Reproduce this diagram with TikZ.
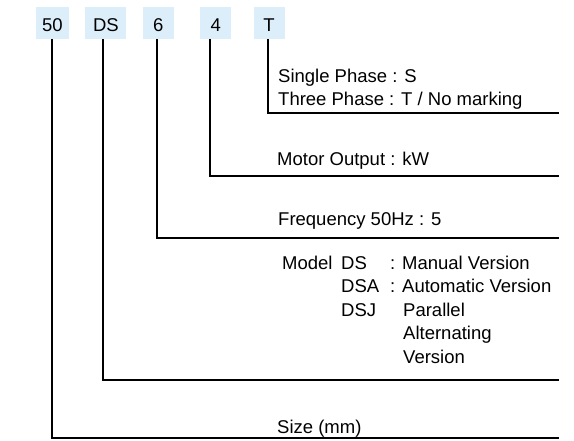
\documentclass[tikz,border=0pt]{standalone}
\usepackage{fontspec}
\setmainfont{Liberation Sans}
\usetikzlibrary{positioning}
\definecolor{codebg}{RGB}{221,238,251}

\begin{document}
\begin{tikzpicture}[x=1pt, y=1pt,
  code/.style={fill=codebg, minimum height=32pt, inner sep=0pt, text height=17.4pt, text depth=0pt, font=\fontsize{18.5}{22}\selectfont},
  lbl/.style={anchor=base west, inner sep=0pt, align=left, font=\fontsize{18.5}{23.5}\selectfont},
  lead/.style={line width=2pt}
]
\useasboundingbox (0,0) rectangle (574,-440);
% code boxes
\node[code, minimum width=33pt] (c50) at (52.5,-23) {50};
\node[code, minimum width=41pt, right=16pt of c50] (cds) {DS};
\node[code, minimum width=31pt, right=16pt of cds] (c6) {6};
\node[code, minimum width=31pt, right=26pt of c6] (c4) {4};
\node[code, minimum width=31pt, right=22pt of c4] (ct) {T};
% line ends
\coordinate (et) at (559,-113);
\coordinate (e4) at (559,-176);
\coordinate (e6) at (559,-238);
\coordinate (eds) at (559,-380);
\coordinate (e50) at (559,-438);
\draw[lead] ([xshift=-1.5pt]ct.south) |- (et);
\draw[lead] ([xshift=-5.5pt]c4.south) |- (e4);
\draw[lead] ([xshift=-1.5pt]c6.south) |- (e6);
\draw[lead] ([xshift=-2.5pt]cds.south) |- (eds);
\draw[lead] ([xshift=-0.8pt]c50.south) |- (e50);
% labels (base = last line)
\node[lbl] (phase) at (278,-105.5) {Single Phase : S\\Three Phase : T / No marking};
\node[lbl] (motor) at (277,-165) {Motor Output : kW};
\node[lbl] (freq) at (278,-225) {Frequency 50Hz : 5};
\node[lbl] (model) at (282,-269) {Model};
\node[lbl] (mcode) at (341,-316) {DS\\DSA\\DSJ};
\node[lbl] (mver) at (390,-292.5) {: Manual Version\\: Automatic Version};
\node[lbl] (mpar) at (403,-363) {Parallel\\Alternating\\Version};
\node[lbl] (size) at (277,-433) {Size (mm)};
\end{tikzpicture}
\end{document}
